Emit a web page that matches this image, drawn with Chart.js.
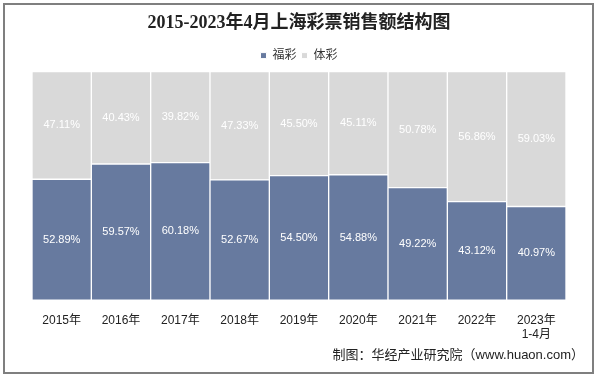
<!DOCTYPE html>
<html><head><meta charset="utf-8">
<script src="https://cdn.jsdelivr.net/npm/chart.js@4/dist/chart.umd.min.js"></script>
<style>
html,body{margin:0;padding:0;background:#fff;}
#wrap{position:absolute;left:0;top:0;width:596px;height:376px;}
#frame{position:absolute;left:3px;top:3px;width:587px;height:367px;border:2px solid #7f7f7f;}
canvas{position:absolute;left:0;top:0;}
</style></head><body>
<div id="wrap"><div id="frame"></div><canvas id="c" width="596" height="376"></canvas></div>
<script>
const categories = ["2015年","2016年","2017年","2018年","2019年","2020年","2021年","2022年",["2023年","1-4月"]];
const fucai = [52.89,59.57,60.18,52.67,54.50,54.88,49.22,43.12,40.97];
const ticai = [47.11,40.43,39.82,47.33,45.50,45.11,50.78,56.86,59.03];
const seriesNames = ["福彩","体彩"];
const FONT = "'Liberation Sans','Noto Sans CJK SC',sans-serif";

const labelPlugin = {
  id:'lbl',
  afterDatasetsDraw(chart){
    const ctx = chart.ctx;
    ctx.save();
    ctx.font = "11px " + FONT;
    ctx.fillStyle = "#fff";
    ctx.textAlign = "center";
    ctx.textBaseline = "middle";
    chart.data.datasets.forEach((ds,i)=>{
      chart.getDatasetMeta(i).data.forEach((bar,j)=>{
        const top = Math.min(bar.y, bar.base), bot = Math.max(bar.y, bar.base);
        ctx.fillText(ds.data[j].toFixed(2)+"%", bar.x, (top+bot)/2);
      });
    });
    ctx.restore();
  },
  afterDraw(chart){
    const ctx = chart.ctx;
    ctx.save();
    ctx.font = "13px " + FONT;
    ctx.fillStyle = "#222";
    ctx.textAlign = "right";
    ctx.textBaseline = "middle";
    ctx.fillText("制图：华经产业研究院（www.huaon.com）", 584, 355);
    ctx.restore();
  }
};

new Chart(document.getElementById('c'), {
  type:'bar',
  data:{
    labels:categories,
    datasets:[
      {label:seriesNames[0], data:fucai, backgroundColor:'#677a9f', borderColor:'#fff', borderWidth:1, borderSkipped:false, barPercentage:1, categoryPercentage:1},
      {label:seriesNames[1], data:ticai, backgroundColor:'#d9d9d9', borderColor:'#fff', borderWidth:1, borderSkipped:false, barPercentage:1, categoryPercentage:1}
    ]
  },
  options:{
    responsive:false, animation:false,
    layout:{padding:{left:32,right:30,top:0,bottom:29}},
    scales:{
      x:{stacked:true, grid:{display:false}, border:{display:false},
         ticks:{color:'#222', font:{family:FONT,size:12}, padding:5, maxRotation:0, autoSkip:false}},
      y:{stacked:true, display:false, min:0, max:100}
    },
    plugins:{
      title:{display:true, text:'2015-2023年4月上海彩票销售额结构图', color:'#222',
        font:{family:"'Liberation Serif','Noto Sans CJK SC',serif", size:18, weight:'bold'}, padding:{top:13,bottom:10}},
      legend:{display:true, labels:{boxWidth:6, boxHeight:6, color:'#333', font:{family:FONT,size:12}, padding:5}},
      tooltip:{enabled:false}
    }
  },
  plugins:[labelPlugin]
});
</script>
</body></html>
